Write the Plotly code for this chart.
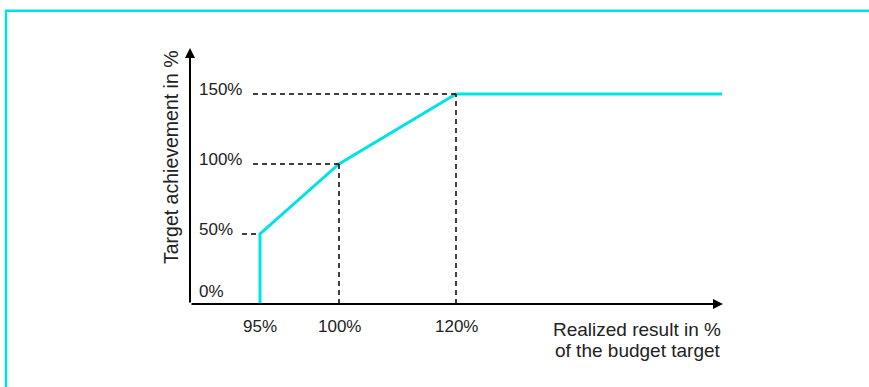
import numpy as np
import plotly.graph_objects as go

# ---- data ----
result_pct = [95, 95, 100, 120, 150]
achievement_pct = [0, 50, 100, 150, 150]
x_ticks = [95, 100, 120]
x_tick_labels = ["95%", "100%", "120%"]
y_ticks = [0, 50, 100, 150]
y_tick_labels = ["0%", "50%", "100%", "150%"]
guide_x = [95, 100, 120]
guide_y = [50, 100, 150]
x_title = ["Realized result in %", "of the budget target"]
y_title = "Target achievement in %"

# ---- layout geometry (schematic scale) ----
W, H = 869, 387
L, R, T, B = 190, 146, 48, 83
PW, PH = W - L - R, H - T - B
scale_vals = [90, 95, 100, 120, 150]
scale_units = [0, 70, 149, 266, 532]
Y_PX_PER_PCT = 1.4
Y_MAX = PH / Y_PX_PER_PCT


def sx(v):
    return np.interp(v, scale_vals, scale_units)


def px(xp):
    return (xp - L) / PW


def py(yp):
    return (H - B - yp) / PH


CYAN = "#00E3E3"
TXT = "#222222"
FONT = "Liberation Sans, Arial, sans-serif"

fig = go.Figure()
fig.add_trace(go.Scatter(
    x=sx(result_pct), y=achievement_pct, mode="lines",
    line=dict(color=CYAN, width=3), cliponaxis=False, hoverinfo="skip",
    showlegend=False,
))

shapes = []
leader_start = {50: 52, 100: 63, 150: 63}
for gx, gy in zip(guide_x, guide_y):
    shapes.append(dict(type="line", xref="x", yref="y", x0=leader_start[gy], x1=sx(gx),
                       y0=gy, y1=gy, line=dict(color="black", width=1.5, dash="5px,4px")))
    if gx != guide_x[0]:
        shapes.append(dict(type="line", xref="x", yref="y", x0=sx(gx), x1=sx(gx),
                           y0=0, y1=gy, line=dict(color="black", width=1.5, dash="5px,4px")))
# frame
shapes.append(dict(type="rect", xref="paper", yref="paper", x0=px(6), x1=px(W + 20),
                   y0=py(H + 20), y1=py(10.7), line=dict(color=CYAN, width=2.5),
                   layer="below"))

ann = []
# axis arrows
ann.append(dict(x=PW, y=0, ax=0, ay=0, xref="x", yref="y", axref="x", ayref="y",
                text="", showarrow=True, arrowhead=2, arrowsize=1, arrowwidth=2,
                arrowcolor="black", standoff=0))
ann.append(dict(x=0, y=Y_MAX, ax=0, ay=0, xref="x", yref="y", axref="x", ayref="y",
                text="", showarrow=True, arrowhead=2, arrowsize=1, arrowwidth=2,
                arrowcolor="black", standoff=0))
# y tick labels
for v, t in zip(y_ticks, y_tick_labels):
    ann.append(dict(x=px(197), xref="paper", y=v, yref="y", text=t, showarrow=False,
                    xanchor="left", yanchor="middle", yshift=13 if v == 0 else 5,
                    font=dict(family=FONT, size=17, color=TXT)))
# x tick labels
for v, t in zip(x_ticks, x_tick_labels):
    ann.append(dict(x=sx(v), xref="x", y=0, yref="y", text=t, showarrow=False,
                    xanchor="center", yanchor="middle", yshift=-22,
                    font=dict(family=FONT, size=17, color=TXT)))
# x title
for i, t in enumerate(x_title):
    ann.append(dict(x=px(723), xref="paper", y=py(329 + 21 * i), yref="paper", text=t,
                    showarrow=False, xanchor="right", yanchor="middle",
                    font=dict(family=FONT, size=19, color=TXT)))
# y title
ann.append(dict(x=px(171), xref="paper", y=py(157), yref="paper", text=y_title,
                textangle=-90, showarrow=False, xanchor="center", yanchor="middle",
                font=dict(family=FONT, size=19.5, color=TXT)))

fig.update_layout(
    width=W, height=H, margin=dict(l=L, r=R, t=T, b=B),
    paper_bgcolor="white", plot_bgcolor="white",
    xaxis=dict(range=[0, PW], visible=False, fixedrange=True),
    yaxis=dict(range=[0, Y_MAX], visible=False, fixedrange=True),
    shapes=shapes, annotations=ann, showlegend=False,
)
fig.write_html("out.html")
